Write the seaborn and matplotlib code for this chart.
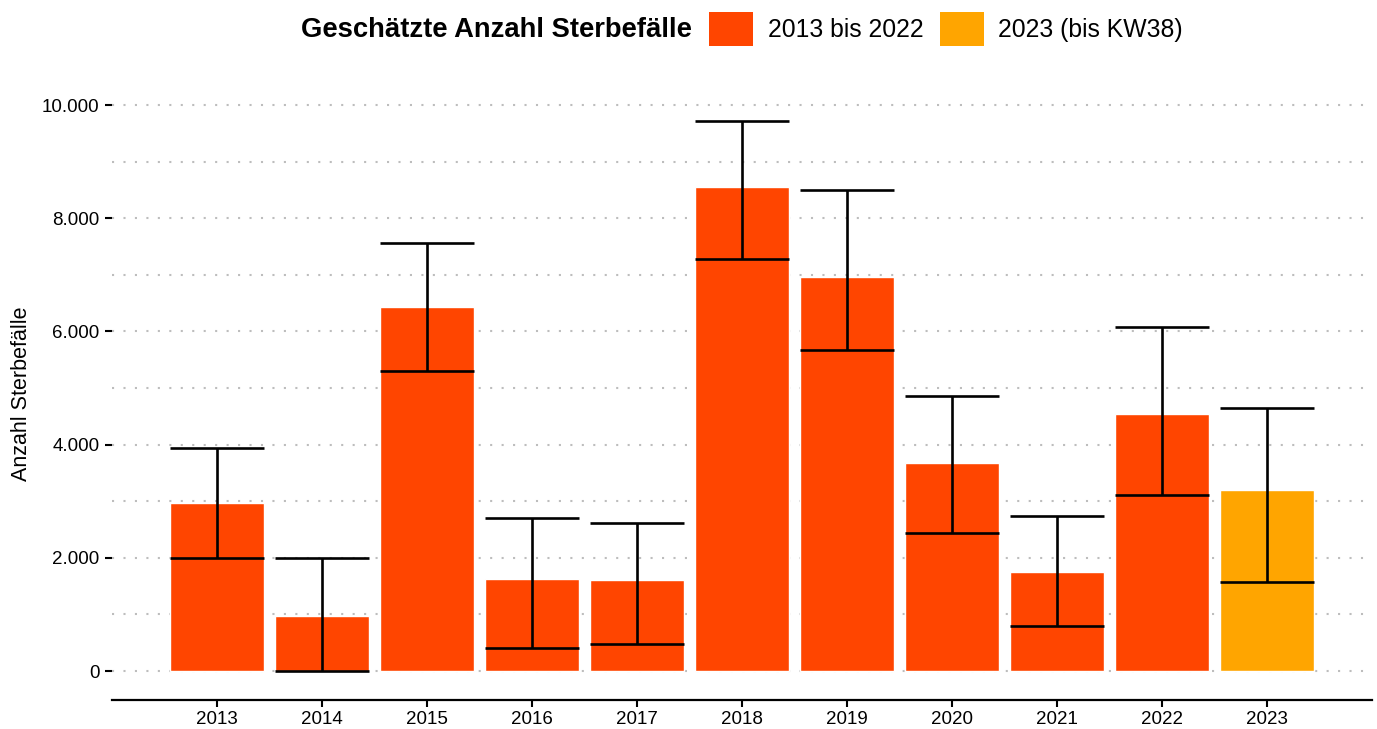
import pandas as pd
import seaborn as sns
import numpy as np
import matplotlib.pyplot as plt
from matplotlib.patches import Patch
from matplotlib.ticker import FuncFormatter, MultipleLocator

# estimated deaths per season, with lower / upper bound
years = ['2013', '2014', '2015', '2016', '2017', '2018',
         '2019', '2020', '2021', '2022', '2023']
deaths = [2960, 975, 6440, 1625, 1605, 8555, 6965, 3680, 1750, 4545, 3200]
lower = [1996, 0, 5300, 406, 477, 7279, 5671, 2438, 795, 3110, 1572]
upper = [3940, 1996, 7562, 2703, 2615, 9717, 8498, 4859, 2739, 6078, 4647]
period = ['2013 bis 2022'] * 10 + ['2023 (bis KW38)']

colors = {'2013 bis 2022': '#FF4500', '2023 (bis KW38)': '#FFA500'}

df = pd.DataFrame({'year': years, 'deaths': deaths, 'lo': lower,
                   'hi': upper, 'period': period})

sns.set_style('white')
plt.rcParams['font.family'] = ['Liberation Sans', 'DejaVu Sans']
plt.rcParams['text.color'] = 'black'
plt.rcParams['xtick.color'] = 'black'
plt.rcParams['ytick.color'] = 'black'

fig = plt.figure(figsize=(13.77, 7.29), dpi=100)
ax = fig.add_axes([112 / 1377, 1 - 700 / 729, 1260 / 1377, 620 / 729])

# dotted grid behind the bars
ax.set_axisbelow(True)
ax.yaxis.set_major_locator(MultipleLocator(2000))
ax.yaxis.set_minor_locator(MultipleLocator(1000))
ax.grid(axis='y', which='both', color='#bdbdbd', linestyle=(0, (1, 4.5)),
        linewidth=1.5)
ax.grid(axis='x', visible=False)

sns.barplot(data=df, x='year', y='deaths', hue='period', palette=colors,
            dodge=False, width=0.9, saturation=1, errorbar=None,
            legend=False, ax=ax, zorder=2)

# error bars with caps the width of the bars
xs = np.arange(len(years))
ax.vlines(xs, df['lo'], df['hi'], color='black', linewidth=1.9, zorder=3)
ax.hlines(df['lo'], xs - 0.45, xs + 0.45, color='black', linewidth=1.9,
          zorder=3)
ax.hlines(df['hi'], xs - 0.45, xs + 0.45, color='black', linewidth=1.9,
          zorder=3)

ax.set_xlim(-1, 11)
ax.set_ylim(-512, 10442)
ax.yaxis.set_major_formatter(
    FuncFormatter(lambda v, p: f'{int(v):,}'.replace(',', '.')))

for s in ['left', 'top', 'right']:
    ax.spines[s].set_visible(False)
ax.spines['bottom'].set_linewidth(1.6)
ax.spines['bottom'].set_color('black')
ax.tick_params(axis='y', which='major', left=True, length=5, width=1.5,
               pad=4, labelsize=13.5, color='black', labelcolor='black')
ax.tick_params(axis='y', which='minor', left=False)
ax.tick_params(axis='x', bottom=True, length=5, width=1.5, pad=3,
               labelsize=13.5, color='black', labelcolor='black')
ax.set_xlabel('')
ax.set_ylabel('')
fig.text(22 / 1377, 1 - 394 / 729, 'Anzahl Sterbefälle', rotation=90,
         ha='center', va='center', fontsize=15.5)

# legend along the top
fig.text(692 / 1377, 1 - 30 / 729, 'Geschätzte Anzahl Sterbefälle',
         ha='right', va='center', fontsize=19.7, fontweight='bold')
handles = [Patch(facecolor=c, edgecolor='none') for c in colors.values()]
fig.legend(handles, list(colors.keys()), loc='center left',
           bbox_to_anchor=(709 / 1377, 1 - 29 / 729), ncol=2, frameon=False,
           fontsize=17.8, handlelength=1.78, handleheight=1.78,
           handletextpad=0.6, columnspacing=0.65, borderpad=0,
           borderaxespad=0)

fig.savefig('out.png', dpi=100)
